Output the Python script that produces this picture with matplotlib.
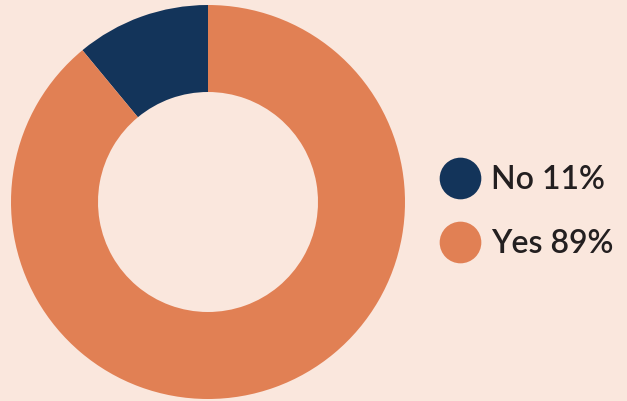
import matplotlib.pyplot as plt
from matplotlib.lines import Line2D

# dados
labels = ["No", "Yes"]
values = [11, 89]
colors = ["#13345A", "#E18054"]
bg = "#FAE7DD"

fig = plt.figure(figsize=(6.27, 4.01), dpi=100, facecolor=bg)
ax = fig.add_axes([11 / 627, 2 / 401, 394 / 627, 394 / 401])
ax.set_facecolor(bg)
ax.pie(values, colors=colors, startangle=90, counterclock=True,
       radius=1, wedgeprops=dict(width=1 - 110 / 197, linewidth=0))
ax.set_xlim(-1, 1)
ax.set_ylim(-1, 1)
ax.set_aspect("equal")
ax.axis("off")

# legenda
handles = [Line2D([], [], marker="o", linestyle="", markersize=30,
                  markerfacecolor=c, markeredgewidth=0) for c in colors]
texts = [f"{l} {v}%" for l, v in zip(labels, values)]
fig.legend(handles, texts, loc="center left", bbox_to_anchor=(423 / 627, 1 - 212 / 401),
           frameon=False, labelspacing=1.05, handletextpad=0.32,
           handlelength=1.3, borderpad=0, labelcolor="#231F20",
           prop=dict(family="Lato", size=23, weight="semibold"))

fig.savefig("out.png", dpi=100, facecolor=bg)
